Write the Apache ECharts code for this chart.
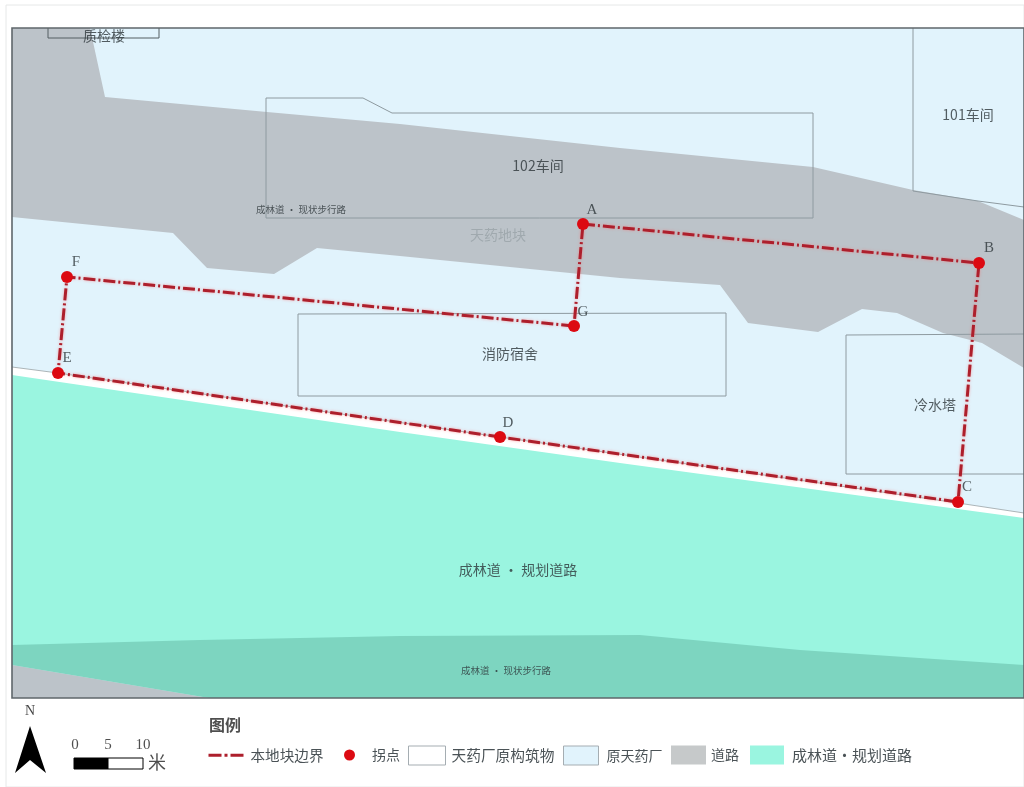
<!DOCTYPE html>
<html><head><meta charset="utf-8">
<style>html,body{margin:0;padding:0;background:#fff}#c{width:1024px;height:787px}</style>
<script src="https://cdn.jsdelivr.net/npm/echarts@6/dist/echarts.min.js"></script>
</head><body><div id="c"></div>
<script>
// Map geometry, in map units
const frameEdge=[[12,28],[1024,28],[1024,698],[12,698]];
const outerEdge=[[6,5],[1024,5],[1024,787],[6,787]];
const plantArea=[[12,28],[1024,28],[1024,513],[958,503],[500,437],[58,373],[12,367]];
const roadArea=[[12,28],[90,28],[105,97],[267,112],[400,124],[620,148],[813,167],[913,190],[978,201],[1024,220],[1024,368],[982,343],[943,333],[897,313],[862,309],[818,332],[748,323],[720,285],[620,278],[400,256],[317,248],[274,274],[207,268],[173,233],[12,217]];
const plannedRoad=[[12,375],[400,432],[620,463],[1024,518],[1024,698],[12,698]];
const footpath=[[12,645],[200,640],[400,636],[640,635],[800,650],[1024,665],[1024,698],[209,698],[12,665]];
const southCorner=[[12,665],[209,698],[12,698]];
const building102=[[266,98],[363,98],[392,113],[813,113],[813,218],[266,218],[266,98]];
const building101=[[913,28],[913,191],[978,201],[1024,207]];
const buildingQC=[[48,28],[48,38],[159,38],[159,28]];
const buildingFire=[[298,314],[726,313],[726,396],[298,396],[298,314]];
const buildingTower=[[1024,334],[846,335],[846,474],[1024,474]];
const plantEdge=[[12,367],[58,373],[500,437],[958,503],[1024,513]];
const pointNames=['A','B','C','D','E','F','G'];
const pointCoords=[[583,224],[979,263],[958,502],[500,437],[58,373],[67,277],[574,326]];
const pointLabelCoords=[[592,210],[989,248],[967,487],[508,423],[67,358],[76,262],[583,312]];
const boundaryOrder=['A','B','C','D','E','F','G','A'];
const mapTexts=['质检楼','101车间','102车间','成林道 · 现状步行路','天药地块','消防宿舍','冷水塔','成林道 · 规划道路','成林道 · 现状步行路'];
const mapTextCoords=[[104,36],[968,115],[538,166],[301,209],[498,235],[510,354],[935,405],[518,570],[506,670]];
const mapTextKinds=['m','m','m','s','f','m','m','m','s'];
const northArrow=[[30,726],[46,773],[30,760],[15,773]];
const scaleBlack=[[74,758],[108,758],[108,769],[74,769]];
const scaleWhite=[[108,758],[143,758],[143,769],[108,769]];
const scaleTicks=['0','5','10'];
const scaleTickCoords=[[75,745],[108,745],[143,745]];

const C={blue:'#e1f3fc',road:'#bcc3c9',teal:'#9af5e0',dark:'#7dd5c0',line:'#8e9aa0',red:'#ad1f2c',dot:'#dc0a12',text:'#2d363a'};
const CJK='"Noto Sans CJK SC","Noto Sans",sans-serif', SERIF='"Liberation Serif",serif';

function poly(name,pts,style,closed,z){
  return {type:'custom',name:name,coordinateSystem:'cartesian2d',silent:true,z:z||1,clip:false,data:pts,
    encode:{x:0,y:1},
    renderItem:function(p,api){
      if(p.dataIndex!==0) return null;
      return {type:closed?'polygon':'polyline',
        shape:{points:pts.map(q=>api.coord(q))},style:Object.assign({},style)};
    }};
}
function labels(items,z){
  return {type:'scatter',name:'注记',silent:true,symbolSize:0,z:z||9,data:items.map(i=>({
    value:i.at,label:{show:true,position:'inside',formatter:i.text,fontFamily:i.font||CJK,fontSize:i.size,color:i.color||C.text,fontWeight:i.weight||'normal'}}))};
}
const byName=n=>pointCoords[pointNames.indexOf(n)];
const kind={m:{size:14},s:{size:9.5},f:{size:14,color:'#98a2a8'}};

const series=[
  poly('外框',outerEdge,{fill:'none',stroke:'#e6e8e8',lineWidth:1},true,0),
  poly('原天药厂',plantArea,{fill:C.blue},true,1),
  poly('成林道·规划道路',plannedRoad,{fill:C.teal},true,1),
  poly('现状步行路',footpath,{fill:C.dark},true,2),
  poly('道路',southCorner,{fill:C.road},true,2),
  poly('道路',roadArea,{fill:C.road},true,2),
  poly('原天药厂',plantEdge,{fill:'none',stroke:'#9aa3a6',lineWidth:0.8},false,3),
  poly('天药厂原构筑物',building102,{fill:'none',stroke:C.line,lineWidth:1},false,3),
  poly('天药厂原构筑物',building101,{fill:'none',stroke:C.line,lineWidth:1},false,3),
  poly('天药厂原构筑物',buildingQC,{fill:'none',stroke:'#555f63',lineWidth:1},false,3),
  poly('天药厂原构筑物',buildingFire,{fill:'none',stroke:C.line,lineWidth:1},false,3),
  poly('天药厂原构筑物',buildingTower,{fill:'none',stroke:C.line,lineWidth:1},false,3),
  {type:'line',name:'本地块边界',silent:true,symbol:'none',z:5,data:boundaryOrder.map(byName),
    itemStyle:{color:C.red},
    lineStyle:{color:C.red,width:3,type:[12,3,2,3],shadowColor:'rgba(255,110,110,.6)',shadowBlur:3}},
  {type:'scatter',name:'拐点',silent:true,symbol:'circle',symbolSize:12,z:6,data:pointCoords,
    itemStyle:{color:C.dot,opacity:1}},
  labels(pointNames.map((n,i)=>({text:n,at:pointLabelCoords[i],font:SERIF,size:15}))),
  labels(mapTexts.map((t,i)=>Object.assign({text:t,at:mapTextCoords[i]},kind[mapTextKinds[i]]))),
  poly('图框',frameEdge,{fill:'none',stroke:'#5f676b',lineWidth:1.6},true,8),
  poly('指北针',northArrow,{fill:'#000'},true,8),
  poly('比例尺',scaleBlack,{fill:'#000',stroke:'#000',lineWidth:1},true,8),
  poly('比例尺',scaleWhite,{fill:'#fff',stroke:'#000',lineWidth:1},true,8),
  labels([{text:'N',at:[30,711],font:SERIF,size:14,color:'#111'},{text:'米',at:[157,762],size:18,color:'#222'},{text:'图例',at:[225,725],size:16,weight:'bold',color:'#222'}]),
  labels(scaleTicks.map((t,i)=>({text:t,at:scaleTickCoords[i],font:SERIF,size:15,color:'#222'})))
];

function item(name,left,w,h,pad,size,extra){
  return Object.assign({show:true,orient:'horizontal',data:[name],left:left,top:755-h/2,padding:0,itemWidth:w,itemHeight:h,
    selectedMode:false,textStyle:{fontFamily:CJK,fontSize:size,color:'#4a5256',padding:[0,0,0,pad]}},extra||{});
}
const legendList=[
  item('本地块边界',207,36,14,1,14.6,{itemStyle:{opacity:0},lineStyle:{color:C.red,width:3,type:[13,3,3,3],shadowBlur:0}}),
  item('拐点',344,11,11,12,14,{icon:'circle',top:748}),
  item('天药厂原构筑物',408,37,19,1,14.7,{icon:'rect',itemStyle:{color:'#fff',borderColor:'#a5adb2',borderWidth:1}}),
  item('原天药厂',563,35,19,3,14,{icon:'rect',itemStyle:{color:C.blue,borderColor:'#a5adb2',borderWidth:1}}),
  item('道路',671,35,19,0,14,{icon:'rect',itemStyle:{color:'#c6c9ca',borderWidth:0}}),
  item('成林道·规划道路',750,34,19,3,15,{icon:'rect',itemStyle:{color:C.teal,borderWidth:0}})
];

const chart=echarts.init(document.getElementById('c'),null,{width:1024,height:787,renderer:'canvas'});
chart.setOption({
  animation:false,backgroundColor:'#fff',
  grid:{left:0,right:0,top:0,bottom:0},
  tooltip:{show:false},
  legend:legendList,
  xAxis:{type:'value',min:0,max:1024,show:false},
  yAxis:{type:'value',min:0,max:787,inverse:true,show:false},
  series:series
});
</script></body></html>
